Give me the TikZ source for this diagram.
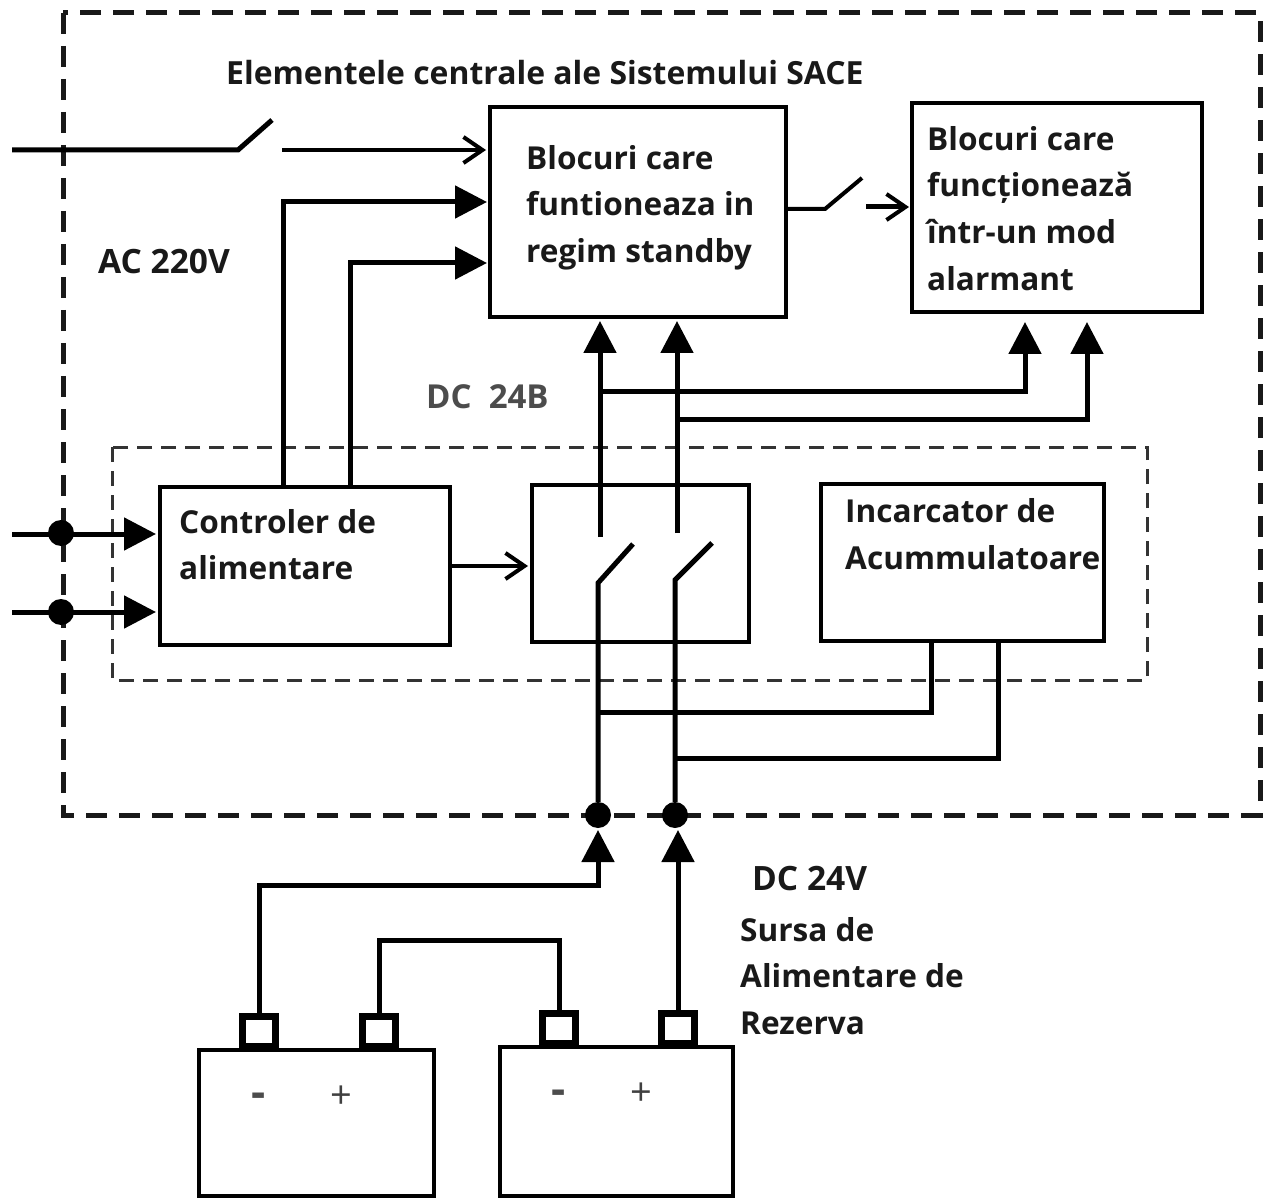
\documentclass[tikz,border=0pt]{standalone}
\usepackage{fontspec}
\setmainfont{Open Sans}
\usetikzlibrary{arrows.meta,calc}
\tikzset{
  box/.style={draw=black,line width=4.5pt,anchor=north west,inner sep=0pt,outer sep=0pt},
  batt/.style={draw=black,line width=4.5pt,anchor=north west,inner sep=0pt,outer sep=0pt},
  term/.style={draw=black,line width=7pt,fill=white,inner sep=0pt,outer sep=0pt,minimum width=33pt,minimum height=30pt},
  wire/.style={draw=black,line width=5pt},
  thinwire/.style={draw=black,line width=4pt},
  bigtip/.style={-{Triangle[length=32pt,width=32pt]}},
  opentip/.style={-{Straight Barb[length=19pt,width=26pt,line width=4pt]}},
  joint/.style={circle,fill=black,inner sep=0pt,minimum size=26pt},
  lab/.style={anchor=base west,inner sep=0pt,font=\fontsize{31.6}{34}\selectfont\bfseries,text=black!90},
  titlelab/.style={anchor=base west,inner sep=0pt,font=\fontsize{31.9}{34}\selectfont\bfseries,text=black!90},
  wlab/.style={anchor=base west,inner sep=0pt,font=\fontsize{33.5}{34}\selectfont\bfseries,text=black!90},
  reglab/.style={anchor=base west,inner sep=0pt,font=\fontsize{33}{34}\selectfont\bfseries,text=black!70},
  sign/.style={inner sep=0pt,font=\fontsize{38}{40}\selectfont,text=black!75},
  minus/.style={inner sep=0pt,font=\fontsize{44}{46}\selectfont\bfseries,text=black!70},
  outerdash/.style={draw=black!90,line width=5pt,dash pattern=on 21pt off 12pt},
  innerdash/.style={draw=black!80,line width=3pt,dash pattern=on 15pt off 9pt},
}
\begin{document}
\begin{tikzpicture}[x=1pt,y=-1pt]
\useasboundingbox (0,0) rectangle (1267,1198);
\fill[white] (0,0) rectangle (1267,1198);
% dashed regions
\draw[outerdash] (63,13) rectangle (1260,815);
\draw[innerdash] (112,447) rectangle (1147,680);
% boxes
\node[box,minimum width=296pt,minimum height=210pt] (standby) at (490,107) {};
\node[box,minimum width=290pt,minimum height=209pt] (alarm) at (912,103) {};
\node[box,minimum width=290pt,minimum height=158pt] (ctrl) at (160,487) {};
\node[box,minimum width=217pt,minimum height=157pt] (sw) at (532,485) {};
\node[box,minimum width=283pt,minimum height=157pt] (charger) at (821,484) {};
\node[batt,minimum width=235pt,minimum height=146pt] (b1) at (199,1050) {};
\node[batt,minimum width=233pt,minimum height=149pt] (b2) at (500,1047) {};
\node[term] (t1) at (259,1031) {};
\node[term] (t2) at (379,1031) {};
\node[term] (t3) at (559,1028) {};
\node[term] (t4) at (678,1028) {};
% joints
\node[joint] (ja) at (61,533) {};
\node[joint] (jb) at (61,612) {};
\node[joint] (jc) at (598,815) {};
\node[joint] (jd) at (675,815) {};
% free ends and ports
\coordinate (acin) at (12,150);
\coordinate (acsw) at (238,150);
\coordinate (acswend) at (272,120);
\coordinate (acout) at (282,150);
\coordinate (acend) at (486,150);
\coordinate (ina) at (12,534);
\coordinate (inb) at (12,612);
\coordinate (c1) at (283,487);
\coordinate (c2) at (350,487);
\coordinate (s1) at (487,202);
\coordinate (s2) at (487,263);
\coordinate (so) at (787,209);
\coordinate (sob) at (825,209);
\coordinate (soe) at (862,178);
\coordinate (ao) at (866,207);
\coordinate (ae) at (909,207);
\coordinate (u1) at (600,537);
\coordinate (u2) at (677,533);
\coordinate (ut1) at (600,321);
\coordinate (ut2) at (677,321);
\coordinate (a1) at (1025,322);
\coordinate (a2) at (1087,322);
\coordinate (l1) at (598,583);
\coordinate (l2) at (675,580);
\coordinate (l1e) at (633,544);
\coordinate (l2e) at (712,543);
\coordinate (ch1) at (931,641);
\coordinate (ch2) at (998,641);
\coordinate (swin) at (528,566);
% top switch
\draw[wire] (acin) -- (acsw) -- (acswend);
\draw[thinwire,opentip] (acout) -- (acend);
% feeds from controller
\draw[wire,bigtip] (c1) |- (s1);
\draw[wire,bigtip] (c2) |- (s2);
% output switch
\draw[thinwire] (so) -- (sob) -- (soe);
\draw[wire,opentip] (ao) -- (ae);
% inputs
\draw[wire,bigtip] (ina) -- ($(ina -| ctrl.west)+(-4,0)$);
\draw[wire,bigtip] (inb) -- ($(inb -| ctrl.west)+(-4,0)$);
% controller to switches
\draw[thinwire,opentip] (swin -| ctrl.east) -- (swin);
% up to loads
\draw[wire,bigtip] (u1) -- (ut1);
\draw[wire,bigtip] (u2) -- (ut2);
\draw[wire,bigtip] (600,392) -| (a1);
\draw[wire,bigtip] (677,419) -| (a2);
% switches
\draw[wire] (jc) -- (l1) -- (l1e);
\draw[wire] (jd) -- (l2) -- (l2e);
% charger
\draw[wire] (ch1) |- (598,712);
\draw[wire] (ch2) |- (675,758);
% batteries
\draw[wire,bigtip] (t1.north) |- (598,885) -- (598,830);
\draw[wire,bigtip] (t4.north) -- (678,830);
\draw[wire] (t2.north) |- (559,940) -- (t3.north);
% labels
\node[titlelab] (title) at (226,85) {Elementele centrale ale Sistemului SACE};
\node[wlab] (ac) at (98,274) {AC 220V};
\node[reglab] (dc) at (426,408) {DC\ \ 24B};
\node[lab] (s1t) at (526,170) {Blocuri care};
\node[lab] (s2t) at (526,216) {funtioneaza in};
\node[lab] (s3t) at (526,263) {regim standby};
\node[lab] (a1t) at (927,151) {Blocuri care};
\node[lab] (a2t) at (927,197) {funcționează};
\node[lab] (a3t) at (927,244) {într-un mod};
\node[lab] (a4t) at (927,291) {alarmant};
\node[lab] (c1t) at (179,533) {Controler de};
\node[lab] (c2t) at (179,579) {alimentare};
\node[lab] (i1t) at (845,522) {Incarcator de};
\node[lab] (i2t) at (845,569) {Acummulatoare};
\node[wlab] (d1t) at (752,890) {DC 24V};
\node[lab] (d2t) at (740,941) {Sursa de};
\node[lab] (d3t) at (740,987) {Alimentare de};
\node[lab] (d4t) at (740,1034) {Rezerva};
\node[minus] (m1) at (259,1100) {-};
\node[sign] (p1) at (341,1097) {+};
\node[minus] (m2) at (559,1097) {-};
\node[sign] (p2) at (641,1094) {+};
\end{tikzpicture}
\end{document}
